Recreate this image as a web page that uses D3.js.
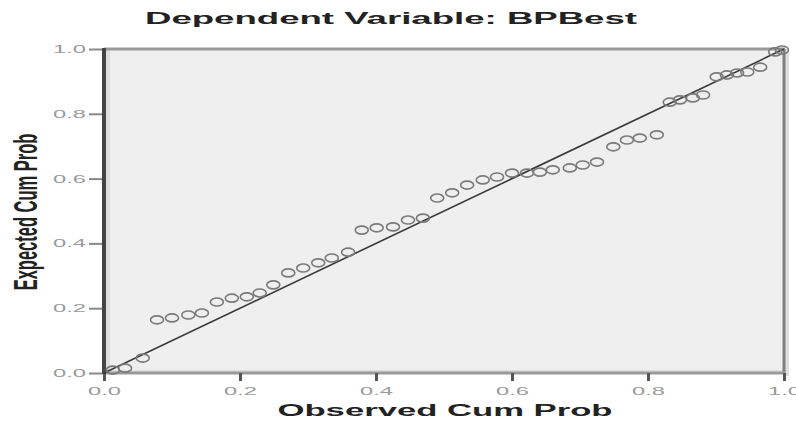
<!DOCTYPE html>
<html>
<head>
<meta charset="utf-8">
<script src="https://cdn.jsdelivr.net/npm/d3@7"></script>
<style>
  body { margin: 0; background: #fff; }
  text { font-family: "Liberation Sans", Arial, sans-serif; }
</style>
</head>
<body>
<div id="chart"></div>
<script>
// P-P plot points
const observed = [0.013, 0.031, 0.057, 0.078, 0.100, 0.124, 0.144, 0.166, 0.188, 0.210,
  0.229, 0.249, 0.271, 0.293, 0.315, 0.335, 0.359, 0.379, 0.401, 0.425,
  0.447, 0.469, 0.490, 0.512, 0.534, 0.557, 0.578, 0.600, 0.622, 0.641,
  0.660, 0.685, 0.704, 0.725, 0.749, 0.769, 0.788, 0.813, 0.832, 0.847,
  0.866, 0.881, 0.901, 0.916, 0.931, 0.946, 0.965, 0.987, 0.997];
const expected = [0.009, 0.015, 0.046, 0.164, 0.170, 0.179, 0.185, 0.219, 0.231, 0.235,
  0.247, 0.272, 0.309, 0.324, 0.340, 0.355, 0.373, 0.441, 0.448, 0.451,
  0.472, 0.478, 0.540, 0.556, 0.580, 0.596, 0.605, 0.617, 0.617, 0.620,
  0.627, 0.633, 0.642, 0.651, 0.698, 0.719, 0.725, 0.735, 0.836, 0.843,
  0.849, 0.858, 0.914, 0.920, 0.926, 0.929, 0.944, 0.991, 0.997];
const tickValues = [0, 0.2, 0.4, 0.6, 0.8, 1.0];
const tickLabels = ['0.0', '0.2', '0.4', '0.6', '0.8', '1.0'];

const W = 796, H = 421;
const margin = { top: 49, right: 12, bottom: 48, left: 104 };
const width = W - margin.left - margin.right;
const height = H - margin.top - margin.bottom;

const svg = d3.select('#chart').append('svg')
    .attr('width', W)
    .attr('height', H);

const g = svg.append('g')
    .attr('transform', `translate(${margin.left},${margin.top})`);

const xScale = d3.scaleLinear().domain([0, 1]).range([0, width]);
const yScale = d3.scaleLinear().domain([0, 1]).range([height, 0]);

// plot background with light inner shading
g.append('rect')
    .attr('x', 0).attr('y', 0)
    .attr('width', width).attr('height', height)
    .style('fill', '#efefef');
g.append('rect')
    .attr('x', 2).attr('y', 0)
    .attr('width', 4).attr('height', height)
    .style('fill', '#dedede');
g.append('rect')
    .attr('x', 0).attr('y', height - 3)
    .attr('width', width).attr('height', 3)
    .style('fill', '#dedede');
g.append('rect')
    .attr('x', width + 1).attr('y', 0)
    .attr('width', 4).attr('height', height + 3)
    .style('fill', '#dedede');

// frame
g.append('line')
    .attr('x1', 0).attr('x2', width + 1)
    .attr('y1', 0).attr('y2', 0)
    .style('stroke', '#999').style('stroke-width', 3);
g.append('line')
    .attr('x1', width).attr('x2', width)
    .attr('y1', 0).attr('y2', height)
    .style('stroke', '#7f7f7f').style('stroke-width', 3);
g.append('line')
    .attr('x1', 0).attr('x2', width + 1)
    .attr('y1', height).attr('y2', height)
    .style('stroke', '#999').style('stroke-width', 3);

// axes
const yAxis = g.append('g')
    .attr('class', 'y-axis')
    .call(d3.axisLeft(yScale).tickValues(tickValues).tickSize(15).tickPadding(3)
        .tickFormat((d, i) => tickLabels[i]));
yAxis.select('.domain').remove();
yAxis.selectAll('.tick line').style('stroke', '#888').style('stroke-width', 2);
yAxis.selectAll('.tick text')
    .style('fill', '#9a9a9a')
    .style('font-size', '11px')
    .attr('textLength', 33)
    .attr('lengthAdjust', 'spacingAndGlyphs');

const xAxis = g.append('g')
    .attr('class', 'x-axis')
    .attr('transform', `translate(0,${height})`)
    .call(d3.axisBottom(xScale).tickValues(tickValues).tickSize(8).tickPadding(6)
        .tickFormat((d, i) => tickLabels[i]));
xAxis.select('.domain').remove();
xAxis.selectAll('.tick line').style('stroke', '#555').style('stroke-width', 3);
xAxis.selectAll('.tick text')
    .style('fill', '#9a9a9a')
    .style('font-size', '11px')
    .attr('textLength', 33)
    .attr('lengthAdjust', 'spacingAndGlyphs');

// left axis line
g.append('line')
    .attr('x1', 0).attr('x2', 0)
    .attr('y1', -1).attr('y2', height + 1)
    .style('stroke', '#444').style('stroke-width', 4);

// diagonal reference line
g.append('line')
    .attr('x1', xScale(0)).attr('y1', yScale(0))
    .attr('x2', xScale(1)).attr('y2', yScale(1))
    .style('stroke', '#3a3a3a').style('stroke-width', 1.6);

// points
g.selectAll('.pt')
    .data(observed.map((d, i) => ({ x: d, y: expected[i] })))
    .enter()
    .append('ellipse')
    .attr('class', 'pt')
    .attr('cx', d => xScale(d.x))
    .attr('cy', d => yScale(d.y))
    .attr('rx', 6.5)
    .attr('ry', 4)
    .style('fill', 'none')
    .style('stroke', '#7a7a7a')
    .style('stroke-width', 1.6);

// titles
svg.append('text')
    .attr('x', 391).attr('y', 24)
    .style('text-anchor', 'middle')
    .style('font-weight', 'bold')
    .style('font-size', '16px')
    .style('fill', '#222')
    .attr('textLength', 492)
    .attr('lengthAdjust', 'spacingAndGlyphs')
    .text('Dependent Variable: BPBest');

svg.append('text')
    .attr('x', 445).attr('y', 416)
    .style('text-anchor', 'middle')
    .style('font-weight', 'bold')
    .style('font-size', '16px')
    .style('fill', '#222')
    .attr('textLength', 335)
    .attr('lengthAdjust', 'spacingAndGlyphs')
    .text('Observed Cum Prob');

svg.append('g')
    .attr('transform', 'translate(37,212) scale(2,1) rotate(-90)')
    .append('text')
    .style('text-anchor', 'middle')
    .style('font-weight', 'bold')
    .style('font-size', '16.5px')
    .style('fill', '#222')
    .text('Expected Cum Prob');
</script>
</body>
</html>
